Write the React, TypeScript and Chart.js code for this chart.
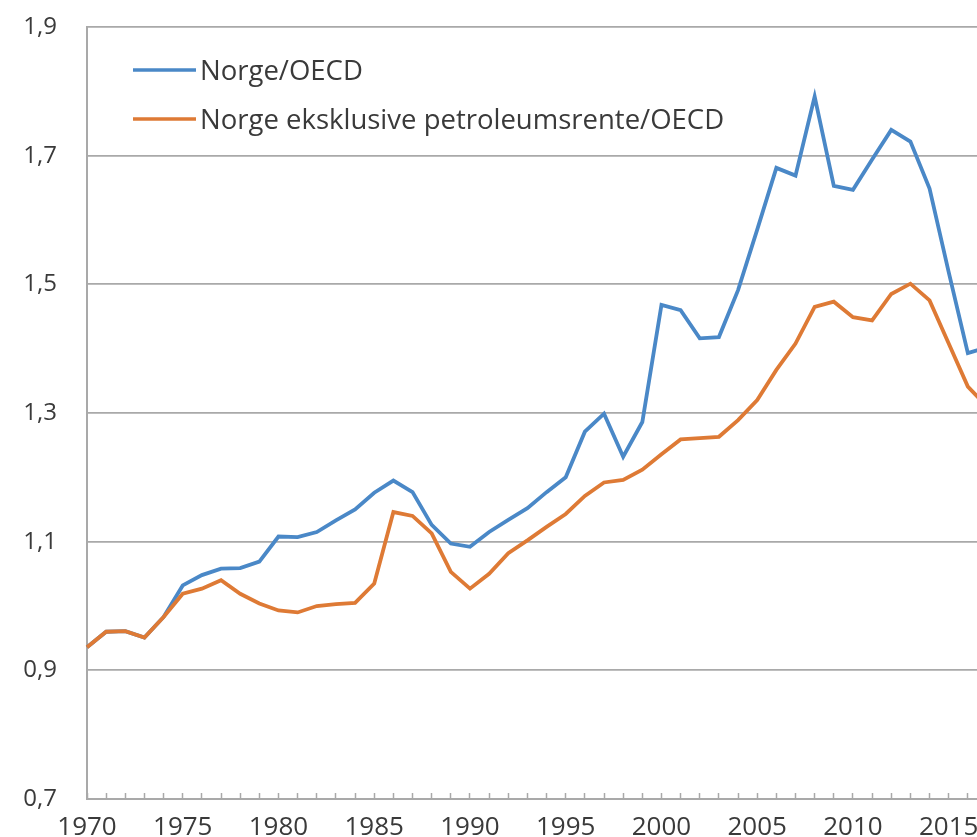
import React, { useEffect, useRef } from 'react';
import { Chart, registerables } from 'chart.js';

Chart.register(...registerables);

const years = [
  '1970', '1971', '1972', '1973', '1974', '1975', '1976', '1977', '1978', '1979',
  '1980', '1981', '1982', '1983', '1984', '1985', '1986', '1987', '1988', '1989',
  '1990', '1991', '1992', '1993', '1994', '1995', '1996', '1997', '1998', '1999',
  '2000', '2001', '2002', '2003', '2004', '2005', '2006', '2007', '2008', '2009',
  '2010', '2011', '2012', '2013', '2014', '2015', '2016', '2017',
];

const norgeOECD = [
  0.936, 0.960, 0.961, 0.951, 0.983, 1.032, 1.048, 1.058, 1.059, 1.069,
  1.108, 1.107, 1.115, 1.133, 1.150, 1.176, 1.195, 1.177, 1.126, 1.097,
  1.092, 1.115, 1.134, 1.152, 1.177, 1.200, 1.271, 1.299, 1.232, 1.286,
  1.468, 1.460, 1.416, 1.418, 1.491, 1.585, 1.681, 1.669, 1.792, 1.653,
  1.647, 1.694, 1.740, 1.722, 1.649, 1.519, 1.393, 1.402,
];

const norgeEksklPetroleum = [
  0.936, 0.960, 0.961, 0.951, 0.983, 1.019, 1.027, 1.040, 1.019, 1.004,
  0.993, 0.990, 1.000, 1.003, 1.005, 1.035, 1.146, 1.140, 1.113, 1.053,
  1.027, 1.050, 1.082, 1.102, 1.123, 1.143, 1.171, 1.192, 1.196, 1.212,
  1.236, 1.259, 1.261, 1.263, 1.289, 1.320, 1.367, 1.408, 1.465, 1.473,
  1.449, 1.444, 1.485, 1.501, 1.475, 1.408, 1.341, 1.310,
];

const seriesLabels = ['Norge/OECD', 'Norge eksklusive petroleumsrente/OECD'];

const BLUE = '#4A88C7';
const ORANGE = '#DE7A35';
const GRID = '#a9a9a9';
const TEXT = '#3a3a3a';
const FONT = '"Open Sans", "DejaVu Sans", sans-serif';

const insideLegend = {
  id: 'insideLegend',
  afterDraw(chart: any) {
    const ctx = chart.ctx;
    const { left, top } = chart.chartArea;
    chart.data.datasets.forEach((ds: any, i: number) => {
      const y = top + 43 + i * 49;
      ctx.save();
      ctx.strokeStyle = ds.borderColor;
      ctx.lineWidth = 3.6;
      ctx.beginPath();
      ctx.moveTo(left + 46, y);
      ctx.lineTo(left + 109, y);
      ctx.stroke();
      ctx.fillStyle = TEXT;
      ctx.font = `27.5px ${FONT}`;
      ctx.textBaseline = 'middle';
      ctx.textAlign = 'left';
      ctx.fillText(ds.label, left + 113, y + 2);
      ctx.restore();
    });
  },
};

export default function App() {
  const ref = useRef<HTMLCanvasElement | null>(null);

  useEffect(() => {
    if (!ref.current) return;
    const chart = new Chart(ref.current, {
      type: 'line',
      data: {
        labels: years,
        datasets: [
          {
            label: seriesLabels[0],
            data: norgeOECD,
            borderColor: BLUE,
            backgroundColor: BLUE,
            borderWidth: 3.8,
            pointRadius: 0,
            tension: 0,
            order: 1,
          },
          {
            label: seriesLabels[1],
            data: norgeEksklPetroleum,
            borderColor: ORANGE,
            backgroundColor: ORANGE,
            borderWidth: 3.8,
            pointRadius: 0,
            tension: 0,
            order: 0,
          },
        ],
      },
      options: {
        responsive: false,
        animation: false,
        layout: { padding: { left: 0, top: 27, right: 0, bottom: 0 } },
        plugins: {
          legend: { display: false },
          tooltip: { enabled: false },
        },
        scales: {
          x: {
            type: 'category',
            offset: false,
            afterFit: (scale: any) => {
              scale.height = 38;
            },
            grid: {
              drawOnChartArea: false,
              drawTicks: true,
              tickLength: -6,
              tickColor: GRID,
              tickWidth: 1.5,
            },
            border: { display: true, color: GRID, width: 2 },
            ticks: {
              autoSkip: false,
              maxRotation: 0,
              minRotation: 0,
              padding: 19,
              color: TEXT,
              font: { family: FONT, size: 26 },
              callback: (_v: any, idx: number) => {
                const y = years[idx];
                return Number(y) % 5 === 0 ? y : '';
              },
            },
          },
          y: {
            min: 0.7,
            max: 1.9,
            afterFit: (scale: any) => {
              scale.width = 87;
            },
            grid: {
              color: GRID,
              lineWidth: 1.8,
              drawTicks: true,
              tickLength: 30,
              tickColor: 'rgba(0,0,0,0)',
            },
            border: { display: true, color: GRID, width: 2 },
            ticks: {
              stepSize: 0.2,
              padding: 0,
              color: TEXT,
              font: { family: FONT, size: 24 },
              callback: (v: any) => Number(v).toFixed(1).replace('.', ','),
            },
          },
        },
      },
      plugins: [insideLegend],
    });
    return () => chart.destroy();
  }, []);

  return (
    <div
      style={{
        position: 'fixed',
        left: 0,
        top: 0,
        width: 977,
        height: 837,
        overflow: 'hidden',
        background: '#ffffff',
      }}
    >
      <canvas ref={ref} width={1006} height={837} style={{ width: 1006, height: 837, display: 'block' }} />
    </div>
  );
}
